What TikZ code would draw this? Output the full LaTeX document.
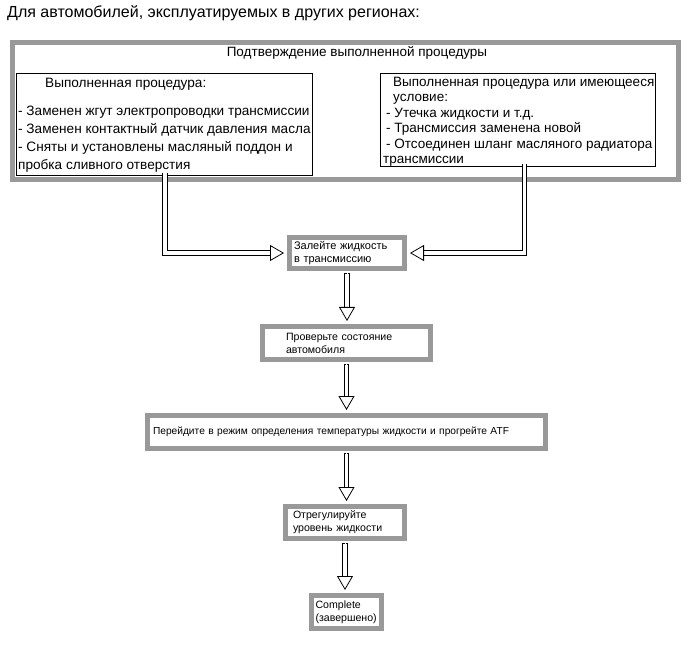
\documentclass[tikz,border=0pt]{standalone}
\usepackage{fontspec}
\setmainfont{Liberation Sans}
\usetikzlibrary{positioning,arrows.meta}
\definecolor{framegray}{RGB}{153,153,153}
\tikzset{
    stepbox/.style={draw=framegray, line width=5pt, fill=white, align=left, font=\fontsize{10.6}{13}\selectfont, inner ysep=2pt},
    groupbox/.style={draw=framegray, line width=5pt},
    listbox/.style={draw, line width=0.8pt, fill=white},
    listtext/.style={align=left, inner sep=0pt, font=\fontsize{13.6}{18}\selectfont},
    pipe/.style={draw=black, line width=5.2pt, shorten <=2pt, shorten >=15pt,
        postaction={draw=white, line width=3.6pt, shorten <=2.8pt}},
    feedpipe/.style={draw=black, line width=5.2pt, shorten <=-3pt, shorten >=15pt,
        postaction={draw=white, line width=3.6pt}},
    pipehead/.style={draw=white, line width=0.1pt, shorten >=3pt, -{Triangle[length=14pt, width=16pt, color=black, fill=white, line width=0.8pt]}}
}

\begin{document}
\begin{tikzpicture}[x=1pt, y=-1pt]
    \useasboundingbox (0,0) rectangle (691,660);

    % heading
    \node[anchor=west, inner sep=0pt, font=\fontsize{16}{19}\selectfont] (title) at (7,13)
        {Для автомобилей, эксплуатируемых в других регионах:};

    % group of conditions
    \node[groupbox, minimum width=666pt, minimum height=137pt] (confirm) at (345.5,111) {};
    \node[font=\fontsize{13.5}{16}\selectfont] (head) at (357,53) {Подтверждение выполненной процедуры};

    \node[listbox, minimum width=296pt, minimum height=102pt, anchor=north west] (done) at (16,73) {};
    \node[listtext, anchor=north west] (donelist) at (18,78)
        {\hspace*{27pt}Выполненная процедура:\\[10pt]
         - Заменен жгут электропроводки трансмиссии\\
         - Заменен контактный датчик давления масла\\
         - Сняты и установлены масляный поддон и\\
         пробка сливного отверстия};

    \node[listbox, minimum width=275pt, minimum height=93pt, anchor=north west] (cond) at (380,73) {};
    \node[listtext, font=\fontsize{13.5}{15.5}\selectfont, anchor=north west] (condlist) at (383,77)
        {\hspace*{10pt}Выполненная процедура или имеющееся\\
         \hspace*{10pt}условие:\\
         \hspace*{3pt}- Утечка жидкости и т.д.\\
         \hspace*{3pt}- Трансмиссия заменена новой\\
         \hspace*{3pt}- Отсоединен шланг масляного радиатора\\
         трансмиссии};

    % steps
    \node[stepbox, font=\fontsize{11}{13}\selectfont, text width=106pt, inner xsep=4.5pt, minimum height=31pt] (fill) at (347,253)
        {Залейте жидкость\\в трансмиссию};
    \node[stepbox, text width=121pt, inner xsep=23.5pt, minimum height=33pt] (check) at (346.5,343)
        {Проверьте состояние\\автомобиля};
    \node[stepbox, font=\fontsize{10.2}{13}\selectfont, text width=387pt, inner xsep=5.5pt, minimum height=33pt] (warm) at (346.5,432)
        {Перейдите в режим определения температуры жидкости и прогрейте ATF};
    \node[stepbox, text width=104pt, inner xsep=7.5pt, minimum height=32pt] (level) at (345,522.5)
        {Отрегулируйте\\уровень жидкости};
    \node[stepbox, text width=62pt, inner xsep=4pt, minimum height=33pt] (finish) at (346.5,612)
        {Complete\\(завершено)};

    % hollow arrows
    \coordinate (ldrop) at (165,0);
    \coordinate (rdrop) at (524.5,0);
    \draw[feedpipe] (done.south -| ldrop) |- (fill.west);
    \draw[pipehead] (done.south -| ldrop) |- (fill.west);
    \draw[feedpipe] (cond.south -| rdrop) |- (fill.east);
    \draw[pipehead] (cond.south -| rdrop) |- (fill.east);

    \draw[pipe] (fill.south) -- (fill.south |- check.north);
    \draw[pipehead] (fill.south) -- (fill.south |- check.north);
    \draw[pipe] (check.south) -- (check.south |- warm.north);
    \draw[pipehead] (check.south) -- (check.south |- warm.north);
    \draw[pipe] (warm.south) -- (warm.south |- level.north);
    \draw[pipehead] (warm.south) -- (warm.south |- level.north);
    \draw[pipe] (level.south) -- (level.south |- finish.north);
    \draw[pipehead] (level.south) -- (level.south |- finish.north);
\end{tikzpicture}
\end{document}
